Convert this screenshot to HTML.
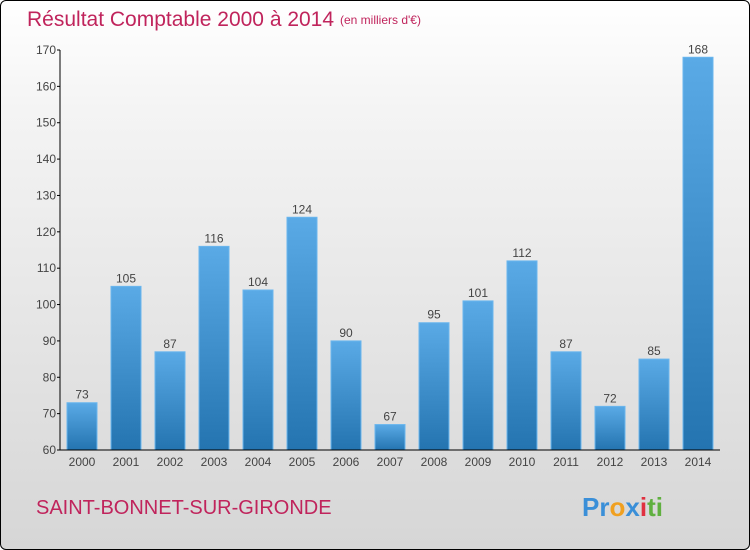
<!DOCTYPE html>
<html><head><meta charset="utf-8"><style>
html,body{margin:0;padding:0}
body{width:750px;height:550px;overflow:hidden;font-family:"Liberation Sans",sans-serif}
#frame{position:absolute;left:0;top:0;width:748px;height:548px;border:1px solid #000;border-radius:6px;background:linear-gradient(#ffffff,#f4f4f4 20%,#d6d6d6)}
</style></head><body>
<div id="frame"></div>
<svg id="chart" width="750" height="550" style="position:absolute;left:0;top:0">
<defs><linearGradient id="bg" x1="0" y1="0" x2="0" y2="1"><stop offset="0" stop-color="#5aaae6"/><stop offset="1" stop-color="#2474b0"/></linearGradient></defs>
<text x="27" y="26" font-size="21" fill="#c0245c">Résultat Comptable 2000 à 2014</text>
<text x="340" y="24" font-size="12" fill="#c0245c">(en milliers d'€)</text>
<text x="36" y="514" font-size="20" fill="#c0245c">SAINT-BONNET-SUR-GIRONDE</text>
<text x="582" y="516" font-size="26" font-weight="bold"><tspan fill="#3a8fd8">Pr</tspan><tspan fill="#f0a020">o</tspan><tspan fill="#3a8fd8">x</tspan><tspan fill="#e03040">i</tspan><tspan fill="#60b040">ti</tspan></text>
<g id="plot"></g>
</svg>
<script>
const categories=["2000","2001","2002","2003","2004","2005","2006","2007","2008","2009","2010","2011","2012","2013","2014"];
const values=[73,105,87,116,104,124,90,67,95,101,112,87,72,85,168];
const ticks=[60,70,80,90,100,110,120,130,140,150,160,170];
const NS="http://www.w3.org/2000/svg";
const g=document.getElementById("plot");
const x0=60,step=44,yMin=60,yMax=170,yTop=50,yBot=450;
function y(v){return yBot-(v-yMin)/(yMax-yMin)*(yBot-yTop);}
function x(i){return x0+i*step;}
function mk(t,a){const e=document.createElementNS(NS,t);for(const k in a)e.setAttribute(k,a[k]);g.appendChild(e);return e;}
values.forEach((v,i)=>{
 const r=mk("rect",{x:x(i)+7,y:y(v),width:30,height:yBot-y(v),fill:"url(#bg)",stroke:"#6ab6ee","stroke-width":1});
 
 
 const t=mk("text",{x:x(i)+22,y:y(v)-4,"font-size":12,fill:"#444","text-anchor":"middle"});
 t.textContent=v;
 
 
 const c=mk("text",{x:x(i)+22,y:466,"font-size":12,fill:"#444","text-anchor":"middle"});
 c.textContent=categories[i];
 
 
});
ticks.forEach(v=>{
 const l=mk("line",{x1:57,x2:60,y1:y(v),y2:y(v),stroke:"#000"});
 
 
 const t=mk("text",{x:56,y:y(v)+4,"font-size":12,fill:"#444","text-anchor":"end"});
 t.textContent=v;
 
 
});
const ya=mk("line",{x1:60,x2:60,y1:yTop,y2:yBot,stroke:"#000"});


const xa=mk("line",{x1:60,x2:720,y1:yBot,y2:yBot,stroke:"#000"});


</script>
</body></html>
